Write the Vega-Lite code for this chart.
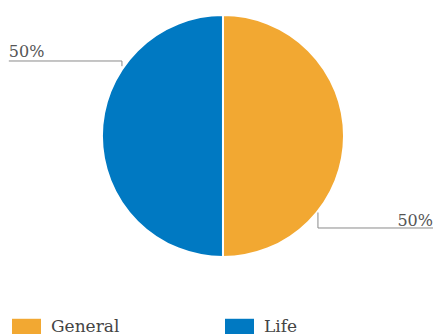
{
  "$schema": "https://vega.github.io/schema/vega-lite/v6.json",
  "width": 433,
  "height": 334,
  "autosize": "none",
  "padding": 0,
  "background": "white",
  "config": {"view": {"stroke": null}, "font": "DejaVu Serif"},
  "datasets": {
    "slices": [
      {"category": "General", "value": 50},
      {"category": "Life", "value": 50}
    ],
    "leaders": [
      {"x": -1.77, "y": 0.62, "x2": -0.835, "y2": 0.62},
      {"x": -0.835, "y": 0.62, "x2": -0.835, "y2": 0.577},
      {"x": 0.785, "y": -0.632, "x2": 0.785, "y2": -0.76},
      {"x": 0.785, "y": -0.76, "x2": 1.75, "y2": -0.76}
    ],
    "labels": [
      {"x": -1.77, "y": 0.655, "text": "50%", "side": "left"},
      {"x": 1.736, "y": -0.74, "text": "50%", "side": "right"}
    ]
  },
  "layer": [
    {
      "data": {"name": "slices"},
      "mark": {"type": "arc", "radius": 121, "stroke": "white", "strokeWidth": 2},
      "encoding": {
        "theta": {"field": "value", "type": "quantitative", "stack": true},
        "color": {
          "field": "category",
          "type": "nominal",
          "scale": {"domain": ["General", "Life"], "range": ["#F2A832", "#0079C2"]},
          "legend": {
            "title": null,
            "orient": "none",
            "legendX": 12,
            "legendY": 312,
            "direction": "horizontal",
            "columns": 2,
            "columnPadding": 105,
            "symbolType": "M-1,-0.55H1V0.55H-1Z",
            "symbolSize": 841,
            "symbolStrokeWidth": 0,
            "symbolOpacity": 1,
            "labelFont": "DejaVu Serif",
            "labelFontSize": 17,
            "labelColor": "#444444",
            "labelOffset": 10,
            "labelLimit": 300
          }
        },
        "x": {"datum": 0, "type": "quantitative", "scale": {"domain": [-1.843, 1.736], "nice": false, "zero": false}, "axis": null},
        "y": {"datum": 0, "type": "quantitative", "scale": {"domain": [-1.636, 1.124], "nice": false, "zero": false}, "axis": null}
      }
    },
    {
      "data": {"name": "leaders"},
      "mark": {"type": "rule", "color": "#8a8a8a", "strokeWidth": 1},
      "encoding": {
        "x": {"field": "x", "type": "quantitative"},
        "y": {"field": "y", "type": "quantitative"},
        "x2": {"field": "x2"},
        "y2": {"field": "y2"}
      }
    },
    {
      "data": {"name": "labels"},
      "transform": [{"filter": "datum.side == 'left'"}],
      "mark": {"type": "text", "fontSize": 16, "font": "DejaVu Serif", "color": "#555555", "baseline": "alphabetic", "align": "left"},
      "encoding": {
        "x": {"field": "x", "type": "quantitative"},
        "y": {"field": "y", "type": "quantitative"},
        "text": {"field": "text"}
      }
    },
    {
      "data": {"name": "labels"},
      "transform": [{"filter": "datum.side == 'right'"}],
      "mark": {"type": "text", "fontSize": 16, "font": "DejaVu Serif", "color": "#555555", "baseline": "alphabetic", "align": "right"},
      "encoding": {
        "x": {"field": "x", "type": "quantitative"},
        "y": {"field": "y", "type": "quantitative"},
        "text": {"field": "text"}
      }
    }
  ]
}
